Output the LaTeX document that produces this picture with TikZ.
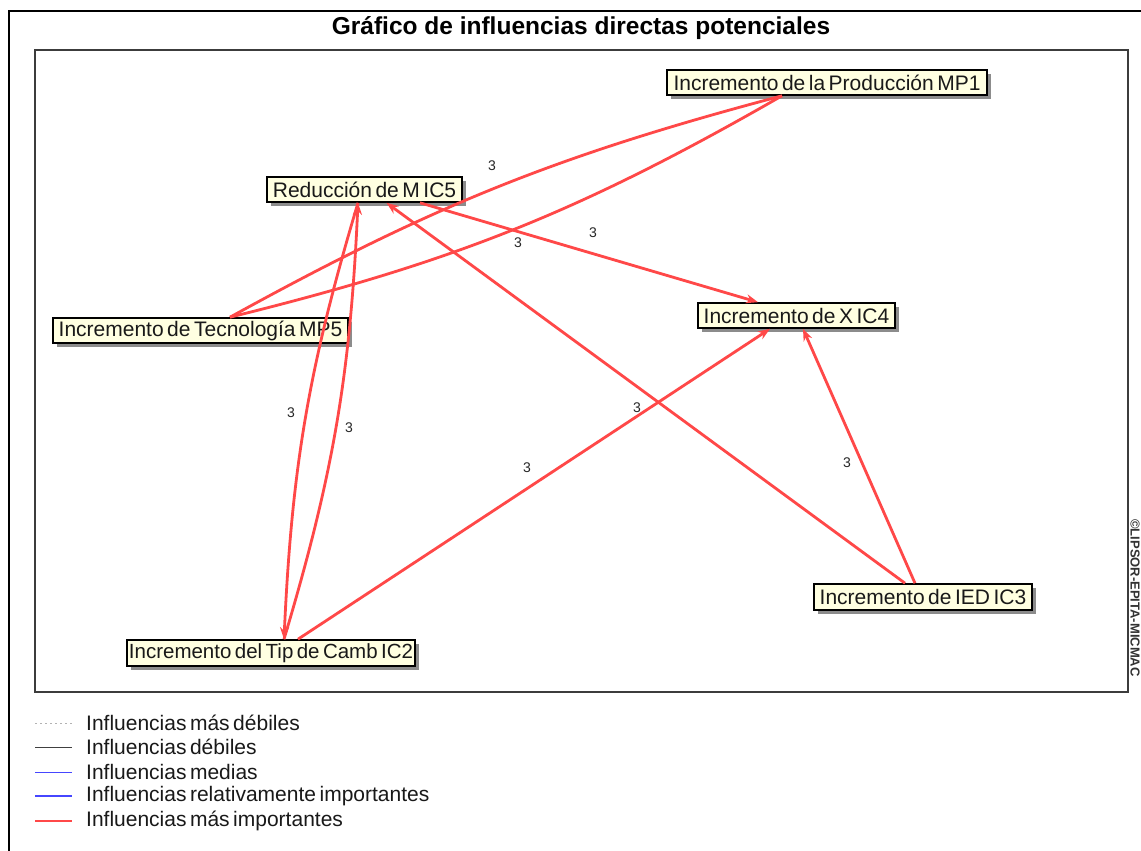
\documentclass[tikz,border=0pt]{standalone}
\usepackage{fontspec}
\setmainfont{Liberation Sans}[WordSpace=0.6]
\newfontfamily\titlefont{Liberation Sans}
\usetikzlibrary{arrows.meta,shadows}
\definecolor{infred}{RGB}{255,72,72}
\definecolor{boxfill}{RGB}{255,255,225}
\definecolor{framegray}{RGB}{60,60,60}
\definecolor{infblue}{RGB}{70,70,255}
\tikzset{
 var/.style={draw=black, line width=1.6pt, fill=boxfill, inner xsep=1.5pt, inner ysep=0pt,
   minimum height=25pt, font=\fontsize{21}{24}\selectfont, text=black!90,
   general shadow={fill=black!45, shadow xshift=4pt, shadow yshift=-4pt}},
 infl/.style={draw=infred, line width=2.8pt, -{Stealth[length=12pt,width=9pt]}},
 inflplain/.style={draw=infred, line width=2.8pt},
 val/.style={font=\fontsize{14}{16}\selectfont, text=black!85, inner sep=0pt},
 legtext/.style={font=\fontsize{21}{24}\selectfont, anchor=west, inner sep=0pt, text=black!90},
 legA/.style={draw=black!30, line width=1pt, dash pattern=on 2pt off 3pt},
 legB/.style={draw=black!75, line width=1pt},
 legC/.style={draw=infblue, line width=1pt},
 legD/.style={draw=infblue, line width=2.6pt},
 legE/.style={draw=infred, line width=2.8pt},
}
\begin{document}
\begin{tikzpicture}[x=1pt,y=-1pt]
\useasboundingbox (0,0) rectangle (1141,851);
\fill[white] (0,0) rectangle (1141,851);
% frames
\draw[line width=2.5pt] (9,851) -- (9,11) -- (1141,11);
\draw[draw=framegray, line width=2pt] (35,50) rectangle (1128,692);
% title
\node[font=\titlefont\bfseries\fontsize{24.5}{28}\selectfont] (title) at (581,28) {Gráfico de influencias directas potenciales};
% copyright
\node[rotate=-90, inner sep=0pt, font=\titlefont\bfseries\fontsize{13}{15}\selectfont, text=black!80] (copy) at (1135,598) {©LIPSOR-EPITA-MICMAC};
% variables
\node[var, minimum width=320pt] (mp1) at (827,82.5) {Incremento de la Producción MP1};
\node[var, minimum width=195pt] (ic5) at (364.5,189.5) {Reducción de M IC5};
\node[var, minimum width=295pt] (mp5) at (200.5,330.5) {Incremento de Tecnología MP5};
\node[var, minimum width=197pt] (ic4) at (796.5,315.5) {Incremento de X IC4};
\node[var, minimum width=288pt, minimum height=26pt, font=\fontsize{20.5}{24}\selectfont] (ic2) at (271,653) {Incremento del Tip de Camb IC2};
\node[var, minimum width=218pt, minimum height=26pt] (ic3) at (923,597) {Incremento de IED IC3};
% influences
\draw[inflplain] ([xshift=29.5pt]mp5.north) to[bend left=7] ([xshift=-45pt]mp1.south);
\draw[inflplain] ([xshift=29.5pt]mp5.north) to[bend right=8] ([xshift=-45pt]mp1.south);
\draw[infl] ([xshift=55.5pt]ic5.south) -- ([xshift=-38.5pt]ic4.north);
\draw[infl] ([xshift=-18pt]ic3.north) -- ([xshift=22pt]ic5.south);
\draw[infl] ([xshift=-8pt]ic3.north) -- ([xshift=6.5pt]ic4.south);
\draw[infl] ([xshift=27pt]ic2.north) -- ([xshift=-26.5pt]ic4.south);
\draw[infl] ([xshift=-6.5pt]ic5.south) to[bend right=7] ([xshift=13pt]ic2.north);
\draw[infl] ([xshift=13pt]ic2.north) to[bend right=7] ([xshift=-6.5pt]ic5.south);
% values
\node[val] (v1) at (492,166) {3};
\node[val] (v2) at (518,243) {3};
\node[val] (v3) at (593,233) {3};
\node[val] (v4) at (291,413) {3};
\node[val] (v5) at (349,428) {3};
\node[val] (v6) at (637,408) {3};
\node[val] (v7) at (527,468) {3};
\node[val] (v8) at (847,463) {3};
% legend
\coordinate (la1) at (35,723); \coordinate (lb1) at (72,723);
\coordinate (la2) at (35,747); \coordinate (lb2) at (72,747);
\coordinate (la3) at (35,772); \coordinate (lb3) at (72,772);
\coordinate (la4) at (35,796); \coordinate (lb4) at (72,796);
\coordinate (la5) at (35,821); \coordinate (lb5) at (72,821);
\draw[legA] (la1) -- (lb1);
\draw[legB] (la2) -- (lb2);
\draw[legC] (la3) -- (lb3);
\draw[legD] (la4) -- (lb4);
\draw[legE] (la5) -- (lb5);
\node[legtext] (t1) at (86,723) {Influencias más débiles};
\node[legtext] (t2) at (86,747) {Influencias débiles};
\node[legtext] (t3) at (86,772) {Influencias medias};
\node[legtext] (t4) at (86,796) {Influencias relativamente importantes};
\node[legtext] (t5) at (86,821) {Influencias más importantes};
\end{tikzpicture}
\end{document}
